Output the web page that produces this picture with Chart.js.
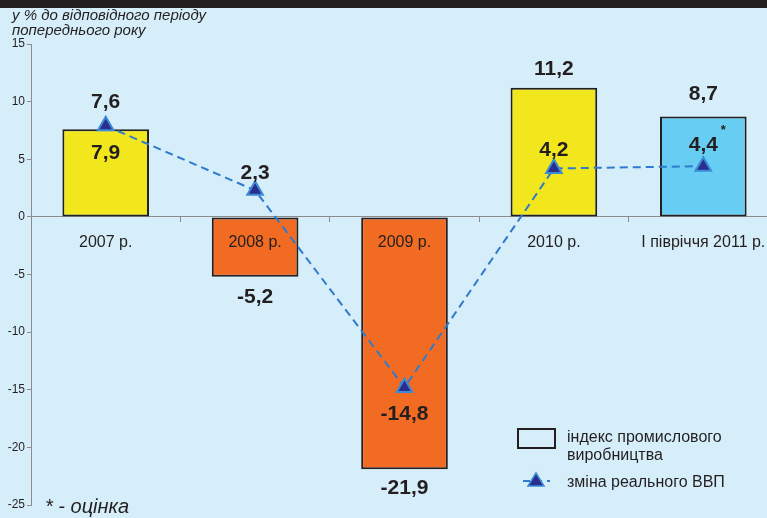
<!DOCTYPE html>
<html>
<head>
<meta charset="utf-8">
<script src="https://cdn.jsdelivr.net/npm/chart.js@4/dist/chart.umd.min.js"></script>
<style>
	html, body { margin: 0; padding: 0; overflow: hidden; background: #d6eefa; }
	#wrap { width: 778px; height: 518px; }
	canvas { display: block; }
</style>
</head>
<body>
<div id="wrap"><canvas id="chart" width="778" height="518"></canvas></div>
<script>
const categories = ['2007 р.', '2008 р.', '2009 р.', '2010 р.', 'I півріччя 2011 р.'];
const industryIndex = [7.6, -5.2, -21.9, 11.2, 8.7];
const gdpChange = [7.9, 2.3, -14.8, 4.2, 4.4];
const barColors = ['#f2e71d', '#f26b22', '#f26b22', '#f2e71d', '#67cdf2'];
const yTicks = [15, 10, 5, 0, -5, -10, -15, -20, -25];

const font = "'Liberation Sans', Arial, sans-serif";
const ink = '#231f20';
const axisGrey = '#8c8c8c';

const fmt = (v) => String(v).replace('.', ',');

// label offsets from the mark (px), tuned per category
const barLabelShift = [-27, 20, 19, -19, -22];
const gdpLabelShift = [27, -17, 27, -18, -21];

const drawText = (ctx, text, x, y, size, opts = {}) => {
	ctx.save();
	ctx.font = `${opts.italic ? 'italic ' : ''}${opts.weight || 'normal'} ${size}px ${font}`;
	ctx.fillStyle = opts.color || ink;
	ctx.textAlign = opts.align || 'center';
	ctx.textBaseline = opts.baseline || 'middle';
	ctx.fillText(text, x, y);
	ctx.restore();
};

const decor = {
	id: 'decor',
	beforeDraw(chart) {
		const { ctx, width, height } = chart;
		ctx.save();
		ctx.fillStyle = '#d6eefa';
		ctx.fillRect(0, 0, width, height);
		ctx.fillStyle = ink;
		ctx.fillRect(0, 0, width, 8);
		ctx.restore();
		drawText(ctx, 'у % до відповідного періоду', 12, 20, 15, { align: 'left', baseline: 'alphabetic', italic: true });
		drawText(ctx, 'попереднього року', 12, 35, 15, { align: 'left', baseline: 'alphabetic', italic: true });
	},
	afterDraw(chart) {
		const { ctx } = chart;
		const xs = chart.scales.x;
		const zeroY = chart.scales.y.getPixelForValue(0);
		categories.forEach((c, i) => {
			drawText(ctx, c, xs.getPixelForTick(i), zeroY + 26, 16);
		});

		const bars = chart.getDatasetMeta(1).data;
		const pts = chart.getDatasetMeta(0).data;
		bars.forEach((b, i) => {
			const edge = industryIndex[i] >= 0 ? Math.min(b.y, b.base) : Math.max(b.y, b.base);
			drawText(ctx, fmt(industryIndex[i]), b.x, edge + barLabelShift[i], 21, { weight: 'bold' });
		});
		pts.forEach((p, i) => {
			drawText(ctx, fmt(gdpChange[i]), p.x, p.y + gdpLabelShift[i], 21, { weight: 'bold' });
		});
		const last = pts[pts.length - 1];
		drawText(ctx, '*', last.x + 20, last.y - 36, 13, { weight: 'bold' });

		// legend
		ctx.save();
		ctx.strokeStyle = ink;
		ctx.lineWidth = 2;
		ctx.strokeRect(518, 429, 37, 19);
		ctx.strokeStyle = '#2f7bcb';
		ctx.setLineDash([7, 5]);
		ctx.beginPath();
		ctx.moveTo(523, 481);
		ctx.lineTo(550, 481);
		ctx.stroke();
		ctx.setLineDash([]);
		ctx.beginPath();
		ctx.moveTo(536, 473);
		ctx.lineTo(544, 486);
		ctx.lineTo(528, 486);
		ctx.closePath();
		ctx.fillStyle = '#2b2e8c';
		ctx.strokeStyle = '#3a8bd8';
		ctx.lineWidth = 1.5;
		ctx.fill();
		ctx.stroke();
		ctx.restore();
		drawText(ctx, 'індекс промислового', 567, 442, 16, { align: 'left', baseline: 'alphabetic' });
		drawText(ctx, 'виробництва', 567, 460, 16, { align: 'left', baseline: 'alphabetic' });
		drawText(ctx, 'зміна реального ВВП', 567, 487, 16, { align: 'left', baseline: 'alphabetic' });
		drawText(ctx, '* - оцінка', 45, 513, 20, { align: 'left', baseline: 'alphabetic', italic: true });
	},
};

new Chart('chart', {
	data: {
		labels: categories,
		datasets: [
			{
				type: 'line',
				label: 'зміна реального ВВП',
				data: gdpChange,
				order: 0,
				borderColor: '#2f7bcb',
				borderWidth: 2,
				borderDash: [8, 5],
				tension: 0,
				fill: false,
				pointStyle: 'triangle',
				pointRadius: 9,
				pointBackgroundColor: '#2b2e8c',
				pointBorderColor: '#3a8bd8',
				pointBorderWidth: 2,
			},
			{
				type: 'bar',
				label: 'індекс промислового виробництва',
				data: industryIndex,
				order: 1,
				backgroundColor: barColors,
				borderColor: ink,
				borderWidth: 2,
				borderSkipped: false,
				categoryPercentage: 1,
				barPercentage: 0.58,
			},
		],
	},
	options: {
		responsive: false,
		animation: false,
		devicePixelRatio: 1,
		layout: { autoPadding: false, padding: { top: 44, bottom: 13, left: 0, right: 0 } },
		plugins: {
			legend: { display: false },
			tooltip: { enabled: false },
		},
		scales: {
			x: {
				type: 'category',
				position: { y: 0 },
				offset: true,
				grid: {
					offset: true,
					drawOnChartArea: false,
					drawTicks: true,
					tickLength: 5,
					color: axisGrey,
				},
				border: { display: true, color: axisGrey, width: 1 },
				ticks: { display: false },
			},
			y: {
				min: -25,
				max: 15,
				afterFit: (s) => { s.width = 31; },
				afterBuildTicks: (s) => { s.ticks = yTicks.map((v) => ({ value: v })); },
				grid: {
					drawOnChartArea: false,
					drawTicks: true,
					tickLength: 4,
					color: axisGrey,
				},
				border: { display: true, color: axisGrey, width: 1 },
				ticks: {
					color: ink,
					font: { family: font, size: 12 },
					padding: 2,
				},
			},
		},
	},
	plugins: [decor],
});
</script>
</body>
</html>
